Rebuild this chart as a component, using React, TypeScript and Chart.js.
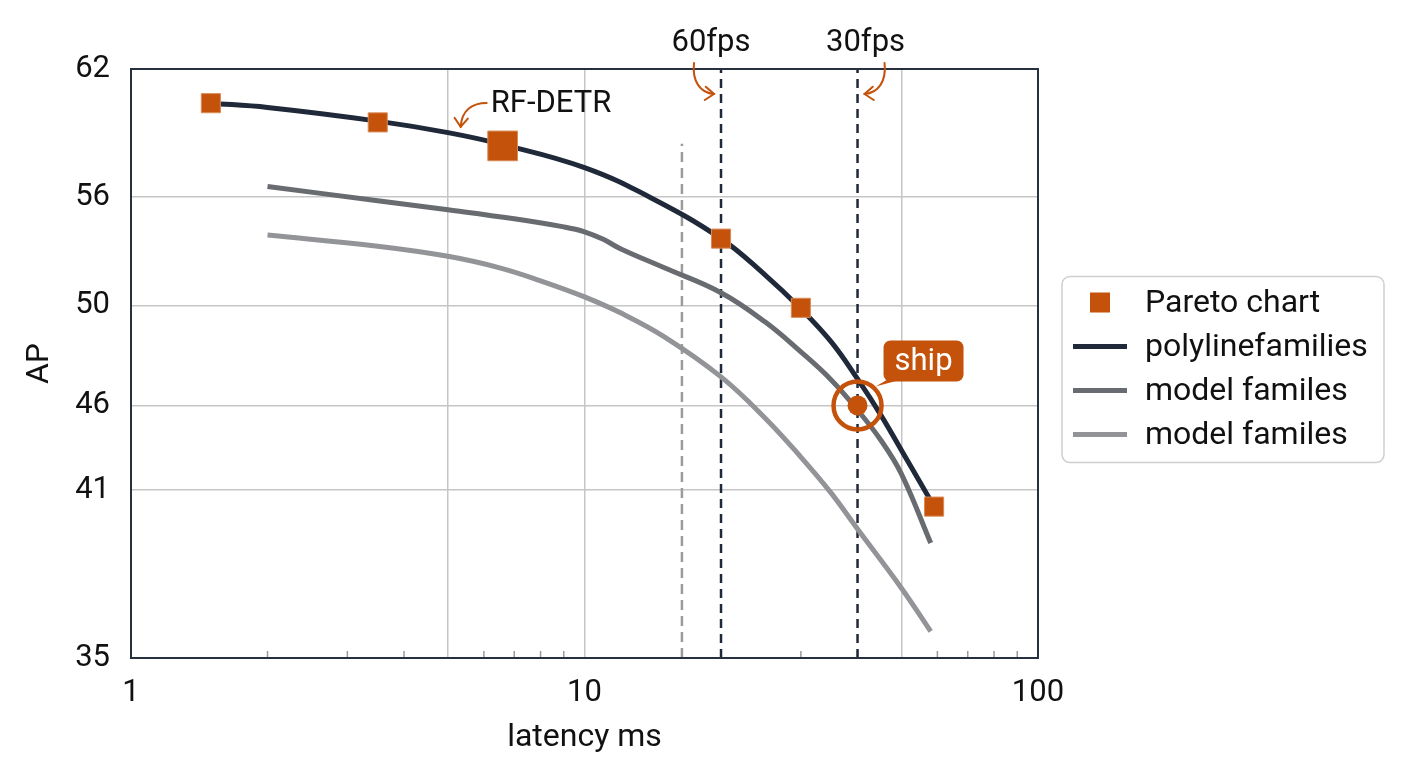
import { useEffect, useRef } from 'react';
import { Chart, registerables, LinearScale } from 'chart.js';

Chart.register(...registerables);

// latency in ms (log axis) vs AP
const paretoLatency = [1.5, 3.5, 6.6, 20, 30, 59];
const paretoAP = [60.4, 59.5, 58.4, 53.7, 49.9, 40.4];
const rfDetrIndex = 2; // the highlighted RF-DETR point

const polyLatency = [1.5, 2, 3.5, 5, 6.6, 10, 14, 20, 25, 30, 35, 40, 45, 51.6, 59];
const polyAP = [60.4, 60.2, 59.56, 59.02, 58.46, 57.38, 55.97, 53.7, 51.69, 49.86, 48.54, 47.06, 45.44, 42.7, 40.4];

const modelALatency = [2, 3.5, 5, 7, 9, 10, 11, 12, 15, 20, 25, 30, 35, 40, 45, 50, 58];
const modelAAP = [56.5, 55.8, 55.3, 54.8, 54.35, 54.08, 53.66, 53.14, 52.08, 50.7, 49.34, 48.14, 47.02, 45.73, 43.95, 41.93, 39.1];

const modelBLatency = [2, 3.5, 5, 6.5, 8, 10, 12, 15, 20, 25, 30, 35, 40, 50, 58];
const modelBAP = [53.9, 53.28, 52.72, 52.08, 51.36, 50.47, 49.7, 48.74, 47.14, 45.26, 42.94, 40.88, 39.6, 37.49, 35.95];

const fpsLatency = [20, 40];
const fpsLabels = ['60fps', '30fps'];
const guideLatency = 16.4;
const guideTopAP = 58.5;

const shipLatency = 40;
const shipAP = 46;

const xTickValues = [1, 2, 3, 4, 5, 6, 7, 8, 9, 10, 20, 30, 40, 50, 60, 70, 80, 90, 100];
const xLabelValues = [1, 10, 100];
const xGridValues = [5, 10, 50];
const xMinorValues = [2, 3, 4, 6, 7, 8, 9, 20, 30, 40, 60, 70, 80, 90];
const yTickValues = [35, 41, 46, 50, 56, 62];

const FONT = 'Roboto, sans-serif';
const ORANGE = '#c4520b';
const NAVY = '#1f2939';
const GRAY1 = '#686b70';
const GRAY2 = '#929497';
const GRID = '#c6c6c6';
const TEXT = '#111111';

// the AP axis in the picture is not evenly spaced, so stretch it piecewise between ticks
const yTickStops = [0, 0.2856, 0.4288, 0.5988, 0.7824, 1];

function warp(v: number) {
  const n = yTickValues.length;
  let i = 0;
  while (i < n - 2 && v > yTickValues[i + 1]) i++;
  const t = (v - yTickValues[i]) / (yTickValues[i + 1] - yTickValues[i]);
  return yTickStops[i] + t * (yTickStops[i + 1] - yTickStops[i]);
}

function unwarp(d: number) {
  const n = yTickStops.length;
  let i = 0;
  while (i < n - 2 && d > yTickStops[i + 1]) i++;
  const t = (d - yTickStops[i]) / (yTickStops[i + 1] - yTickStops[i]);
  return yTickValues[i] + t * (yTickValues[i + 1] - yTickValues[i]);
}

class WarpedScale extends LinearScale {
  static id = 'warped';
  getPixelForValue(value: number) {
    if (value === null || value === undefined || isNaN(value)) return NaN;
    return this.getPixelForDecimal(warp(value));
  }
  getValueForPixel(pixel: number) {
    return unwarp(this.getDecimalForPixel(pixel));
  }
}
Chart.register(WarpedScale);

const zip = (xs: number[], ys: number[]) => xs.map((x, i) => ({ x, y: ys[i] }));

function arrow(ctx: CanvasRenderingContext2D, p: number[]) {
  const [x0, y0, c1x, c1y, c2x, c2y, x1, y1] = p;
  ctx.beginPath();
  ctx.moveTo(x0, y0);
  ctx.bezierCurveTo(c1x, c1y, c2x, c2y, x1, y1);
  ctx.stroke();
  const a = Math.atan2(y1 - c2y, x1 - c2x);
  const h = 11;
  ctx.beginPath();
  ctx.moveTo(x1 - h * Math.cos(a - 0.65), y1 - h * Math.sin(a - 0.65));
  ctx.lineTo(x1, y1);
  ctx.lineTo(x1 - h * Math.cos(a + 0.65), y1 - h * Math.sin(a + 0.65));
  ctx.stroke();
}

const overlay = {
  id: 'overlay',
  beforeDatasetsDraw(chart: any) {
    const { ctx, chartArea } = chart;
    const x = chart.scales.x;
    ctx.save();
    ctx.strokeStyle = '#9a9a9a';
    ctx.lineWidth = 1.5;
    xMinorValues.forEach((v) => {
      const px = x.getPixelForValue(v);
      ctx.beginPath();
      ctx.moveTo(px, chartArea.bottom);
      ctx.lineTo(px, chartArea.bottom - 7);
      ctx.stroke();
    });
    ctx.restore();
  },
  afterDatasetsDraw(chart: any) {
    const { ctx, chartArea } = chart;
    const x = chart.scales.x;
    const y = chart.scales.y;
    ctx.save();

    // plot frame
    ctx.strokeStyle = '#27303f';
    ctx.lineWidth = 2;
    ctx.strokeRect(chartArea.left, chartArea.top, chartArea.right - chartArea.left, chartArea.bottom - chartArea.top);

    ctx.font = `31px ${FONT}`;
    ctx.fillStyle = TEXT;
    ctx.textBaseline = 'middle';
    ctx.strokeStyle = ORANGE;
    ctx.lineWidth = 2;
    ctx.lineCap = 'round';

    // fps labels above the dashed lines
    const T = chartArea.top;
    fpsLatency.forEach((v, i) => {
      const L = x.getPixelForValue(v);
      const s = i === 0 ? -1 : 1;
      ctx.textAlign = 'center';
      ctx.fillText(fpsLabels[i], L + (i === 0 ? -10 : 8), T - 26);
      arrow(ctx, [L + s * 27, T - 6, L + s * 29, T + 12, L + s * 21, T + 24, L + s * 7, T + 25]);
    });

    // RF-DETR callout
    const rx = x.getPixelForValue(paretoLatency[rfDetrIndex]);
    const ry = y.getPixelForValue(paretoAP[rfDetrIndex]);
    ctx.textAlign = 'left';
    ctx.fillText('RF-DETR', rx - 12, ry - 42);
    arrow(ctx, [rx - 16, ry - 43, rx - 30, ry - 43, rx - 41, ry - 36, rx - 42, ry - 19]);

    // ship tag
    const sx = x.getPixelForValue(shipLatency);
    const sy = y.getPixelForValue(shipAP);
    const bx = sx + 26;
    const by = sy - 65;
    const bw = 80;
    const bh = 41;
    ctx.fillStyle = ORANGE;
    ctx.beginPath();
    ctx.roundRect(bx, by, bw, bh, 7);
    ctx.fill();
    ctx.beginPath();
    ctx.moveTo(bx + 4, by + bh - 2);
    ctx.lineTo(bx + 18, by + bh - 2);
    ctx.lineTo(sx + 18, sy - 19);
    ctx.closePath();
    ctx.fill();
    ctx.fillStyle = '#ffffff';
    ctx.textAlign = 'center';
    ctx.fillText('ship', bx + bw / 2, by + bh / 2 + 1);

    // legend box
    const lx = chartArea.right + 24;
    const lh = 186;
    const ly = (chartArea.top + chartArea.bottom) / 2 - lh / 2 + 6;
    ctx.strokeStyle = '#cfcfcf';
    ctx.lineWidth = 1.5;
    ctx.beginPath();
    ctx.roundRect(lx, ly, 322, lh, 8);
    ctx.stroke();
    ctx.font = `32px ${FONT}`;
    const items = chart.data.datasets.filter((d: any) => d.inLegend);
    items.forEach((d: any, i: number) => {
      const cy = ly + 26 + i * 44;
      if (d.showLine === false) {
        ctx.fillStyle = d.backgroundColor;
        ctx.fillRect(lx + 28, cy - 10, 20, 20);
      } else {
        ctx.strokeStyle = d.borderColor;
        ctx.lineWidth = 5;
        ctx.lineCap = 'butt';
        ctx.beginPath();
        ctx.moveTo(lx + 11, cy);
        ctx.lineTo(lx + 65, cy);
        ctx.stroke();
      }
      ctx.fillStyle = TEXT;
      ctx.textAlign = 'left';
      ctx.fillText(d.label, lx + 83, cy + 1);
    });

    ctx.restore();
  },
};

export default function App() {
  const canvasRef = useRef<HTMLCanvasElement>(null);

  useEffect(() => {
    if (!canvasRef.current) return;
    const curve = (label: string, data: any[], color: string, order: number) => ({
      label,
      data,
      borderColor: color,
      backgroundColor: color,
      borderWidth: 5,
      borderCapStyle: 'butt',
      pointRadius: 0,
      tension: 0.4,
      order,
      inLegend: true,
    });
    const vline = (v: number, top: number, color: string, dash: number[]) => ({
      data: [{ x: v, y: 35 }, { x: v, y: top }],
      borderColor: color,
      borderWidth: 2.5,
      borderDash: dash,
      pointRadius: 0,
      tension: 0,
      order: 6,
    });

    const chart = new Chart(canvasRef.current, {
      type: 'line',
      data: {
        datasets: [
          {
            label: 'Pareto chart',
            data: zip(paretoLatency, paretoAP),
            showLine: false,
            pointStyle: 'rect',
            pointRadius: (c: any) => (c.dataIndex === rfDetrIndex ? 21 : 13.5),
            backgroundColor: ORANGE,
            borderColor: '#d98a55',
            borderWidth: 1,
            order: 0,
            inLegend: true,
          } as any,
          curve('polylinefamilies', zip(polyLatency, polyAP), NAVY, 1),
          curve('model familes', zip(modelALatency, modelAAP), GRAY1, 2),
          curve('model familes', zip(modelBLatency, modelBAP), GRAY2, 3),
          {
            data: [{ x: shipLatency, y: shipAP }],
            showLine: false,
            pointStyle: 'circle',
            pointRadius: 24,
            backgroundColor: 'rgba(0,0,0,0)',
            borderColor: ORANGE,
            borderWidth: 4.5,
            order: 0,
          },
          {
            data: [{ x: shipLatency, y: shipAP }],
            showLine: false,
            pointStyle: 'circle',
            pointRadius: 10,
            backgroundColor: ORANGE,
            borderColor: ORANGE,
            borderWidth: 0,
            order: 0,
          },
          ...fpsLatency.map((v) => vline(v, 62, NAVY, [9, 6])),
          vline(guideLatency, guideTopAP, '#9c9c9c', [10, 6]),
        ] as any,
      },
      options: {
        animation: false,
        responsive: true,
        maintainAspectRatio: false,
        layout: { padding: { top: 69, right: 370, left: 0, bottom: 0 } },
        plugins: { legend: { display: false }, tooltip: { enabled: false } },
        scales: {
          x: {
            type: 'logarithmic',
            min: 1,
            max: 100,
            afterBuildTicks: (s: any) => {
              s.ticks = xTickValues.map((v) => ({ value: v }));
            },
            afterFit: (s: any) => {
              s.height = 110;
            },
            ticks: {
              autoSkip: false,
              maxRotation: 0,
              padding: 17,
              color: TEXT,
              font: { family: FONT, size: 31 },
              callback: (v: any) => (xLabelValues.includes(Number(v)) ? String(v) : ''),
            },
            grid: {
              drawTicks: false,
              lineWidth: 1.5,
              color: (c: any) => (c.tick && xGridValues.includes(c.tick.value) ? GRID : 'rgba(0,0,0,0)'),
            },
            border: { display: false },
            title: {
              display: true,
              text: 'latency ms',
              color: TEXT,
              font: { family: FONT, size: 32 },
              padding: { top: 0, bottom: 11 },
            },
          },
          y: {
            type: 'warped',
            min: 35,
            max: 62,
            afterBuildTicks: (s: any) => {
              s.ticks = yTickValues.map((v) => ({ value: v }));
            },
            afterFit: (s: any) => {
              s.width = 131;
            },
            ticks: {
              padding: 21,
              color: TEXT,
              font: { family: FONT, size: 31 },
              callback: (v: any) => String(v),
            },
            grid: { drawTicks: false, lineWidth: 1.5, color: GRID },
            border: { display: false },
            title: {
              display: true,
              text: 'AP',
              color: TEXT,
              font: { family: FONT, size: 32 },
              padding: { top: 21, bottom: 0 },
            },
          },
        } as any,
      },
      plugins: [overlay],
    });
    return () => chart.destroy();
  }, []);

  return (
    <div style={{ position: 'fixed', left: 0, top: 0, width: 1408, height: 768, background: '#ffffff' }}>
      <canvas ref={canvasRef} />
    </div>
  );
}
